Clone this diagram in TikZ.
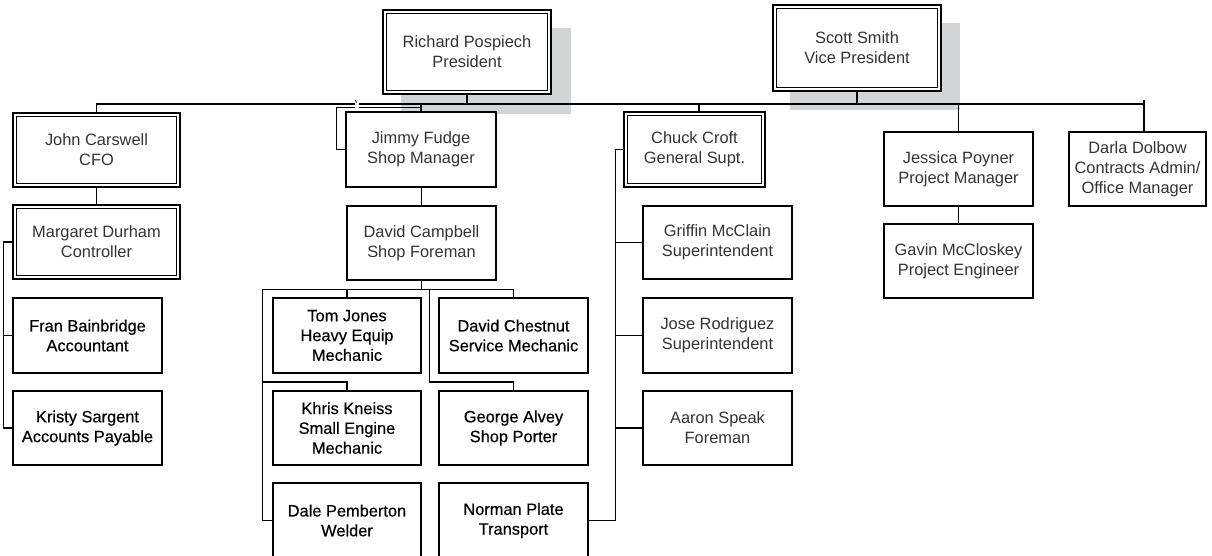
\documentclass[tikz,border=0pt]{standalone}
\usepackage{fontspec}
\setmainfont{Liberation Sans}
\newfontface\heavyface{Liberation Sans}[FakeBold=0.45]
\usetikzlibrary{calc}
\pgfdeclarelayer{shadowlayer}
\pgfdeclarelayer{linelayer}
\pgfsetlayers{shadowlayer,linelayer,main}
\definecolor{txtgray}{RGB}{52,52,52}
\definecolor{shd}{RGB}{211,212,214}
\begin{document}
\begin{tikzpicture}[x=1pt,y=-1pt,
  box/.style={draw=black, line width=1.4pt, fill=white, inner sep=0pt, align=center,
    text=txtgray, font=\fontsize{16.4}{19.8}\selectfont},
  dbox/.style={box},
  inner/.style={draw=black, line width=1.0pt},
  dark/.style={text=black, font=\heavyface\fontsize{16.4}{19.8}\selectfont},
  conn/.style={line width=1.4pt, draw=black}
]
\useasboundingbox (0,0) rectangle (1212,556);
\clip (0,0) rectangle (1212,556);

% top level
\node[dbox, minimum width=168pt, minimum height=84pt] (richard) at (467,52) {Richard Pospiech\\President};
\node[dbox, minimum width=168pt, minimum height=86pt] (scott) at (857,48) {Scott Smith\\Vice President};

% second level
\node[dbox, minimum width=167pt, minimum height=74pt] (john) at (96.5,150) {John Carswell\\CFO};
\node[box, minimum width=150pt, minimum height=75pt] (jimmy) at (421,149.5) {Jimmy Fudge\\Shop Manager};
\node[dbox, minimum width=141pt, minimum height=75pt] (chuck) at (694.5,149.5) {Chuck Croft\\General Supt.};
\node[box, minimum width=149pt, minimum height=74pt] (jessica) at (958.5,169) {Jessica Poyner\\Project Manager};
\node[box, minimum width=137pt, minimum height=74pt] (darla) at (1137.5,169) {Darla Dolbow\\Contracts Admin/\\Office Manager};

% finance column
\node[dbox, minimum width=167pt, minimum height=74pt] (margaret) at (96.5,242) {Margaret Durham\\Controller};
\node[box, dark, minimum width=149pt, minimum height=75pt] (fran) at (87.5,335.5) {Fran Bainbridge\\Accountant};
\node[box, dark, minimum width=149pt, minimum height=74pt] (kristy) at (87.5,428) {Kristy Sargent\\Accounts Payable};

% shop column
\node[box, minimum width=149pt, minimum height=74pt] (campbell) at (421.5,243) {David Campbell\\Shop Foreman};
\node[box, dark, minimum width=148pt, minimum height=75pt] (tom) at (347,335.5) {Tom Jones\\Heavy Equip\\Mechanic};
\node[box, dark, minimum width=149pt, minimum height=75pt] (chestnut) at (513.5,335.5) {David Chestnut\\Service Mechanic};
\node[box, dark, minimum width=148pt, minimum height=74pt] (khris) at (347,428) {Khris Kneiss\\Small Engine\\Mechanic};
\node[box, dark, minimum width=149pt, minimum height=74pt] (george) at (513.5,428) {George Alvey\\Shop Porter};
\node[box, dark, minimum width=148pt, minimum height=75pt] (dale) at (347,520.5) {Dale Pemberton\\Welder};
\node[box, dark, minimum width=149pt, minimum height=75pt] (norman) at (513.5,520.5) {Norman Plate\\Transport};

% field column
\node[box, minimum width=149pt, minimum height=73pt] (griffin) at (717.5,242.5) {Griffin McClain\\Superintendent};
\node[box, minimum width=149pt, minimum height=75pt] (jose) at (717.5,335.5) {Jose Rodriguez\\Superintendent};
\node[box, minimum width=149pt, minimum height=74pt] (aaron) at (717.5,428) {Aaron Speak\\Foreman};

% project column
\node[box, minimum width=149pt, minimum height=74pt] (gavin) at (958.5,261) {Gavin McCloskey\\Project Engineer};

% inner lines of the double-framed boxes
\foreach \n in {richard,scott,john,margaret,chuck}
  \draw[inner] ($(\n.north west)+(3.8,3.8)$) rectangle ($(\n.south east)+(-3.8,-3.8)$);

% shadows
\begin{pgfonlayer}{shadowlayer}
\fill[shd] ($(richard.north west)+(19,19)$) rectangle ($(richard.south east)+(19,19)$);
\fill[shd] ($(scott.north west)+(18,19)$) rectangle ($(scott.south east)+(18,18)$);
\end{pgfonlayer}

% connectors
\begin{pgfonlayer}{linelayer}
\coordinate (ml) at (0,104);
\coordinate (dtop) at ($(darla.north)+(6.5,0)$);
\coordinate (ctop) at ($(chuck.north)+(4.5,0)$);
\draw[conn] (john.north) |- (dtop |- ml);
\draw[conn] (dtop) -- ($(dtop |- ml)+(0,-4)$);
\draw[conn] (richard.south) -- (richard.south |- ml);
\draw[conn] (scott.south) -- (scott.south |- ml);
\draw[conn] (jimmy.north) -- (jimmy.north |- ml);
\draw[conn] (ctop) -- (ctop |- ml);
\draw[conn] (jessica.north) -- (jessica.north |- ml);

% finance
\coordinate (lbus) at ($(fran.west)+(-9,0)$);
\draw[conn] (john.south) -- (margaret.north);
\draw[conn] (margaret.west) -| (lbus) |- (kristy.west);
\draw[conn] (lbus) -- (fran.west);

% odd bracket left of Jimmy Fudge
\coordinate (jb) at ($(jimmy.west)+(-9,0)$);
\coordinate (j107) at (0,107.5);
\draw[conn] (jimmy.west) -- (jb) -- (jb |- j107) -- (jimmy.north |- j107);
\fill[white] (355,100) rectangle (359,110.5);
\draw[line width=0.6pt] (355.3,100.2) -- (356.8,102.6);

% shop
\draw[conn] (jimmy.south) -- (campbell.south |- jimmy.south) -- (campbell.north);
\coordinate (cb) at ($(campbell.south)+(0,9)$);
\coordinate (kr) at (0,382);
\coordinate (sbL) at ($(tom.west |- cb)+(-10,0)$);
\coordinate (sbR) at ($(chestnut.west |- cb)+(-9,0)$);
\draw[conn] (campbell.south) -- (cb);
\draw[conn] (sbL) -- (cb -| chestnut.north) -- (chestnut.north);
\draw[conn] (tom.north) -- (tom.north |- cb);
\draw[conn] (sbL) |- (dale.west);
\draw[conn] (sbL |- kr) -| (khris.north);
\draw[conn] (sbR) -- (sbR |- kr) -| (george.north);

% field
\coordinate (cbus) at ($(griffin.west)+(-27,0)$);
\draw[conn] (chuck.west) -| (cbus |- norman.east) -- (norman.east);
\draw[conn] (cbus |- griffin.west) -- (griffin.west);
\draw[conn] (cbus |- jose.west) -- (jose.west);
\draw[conn] (cbus |- aaron.west) -- (aaron.west);

% project
\draw[conn] (jessica.south) -- (gavin.north);
\end{pgfonlayer}
\end{tikzpicture}
\end{document}
